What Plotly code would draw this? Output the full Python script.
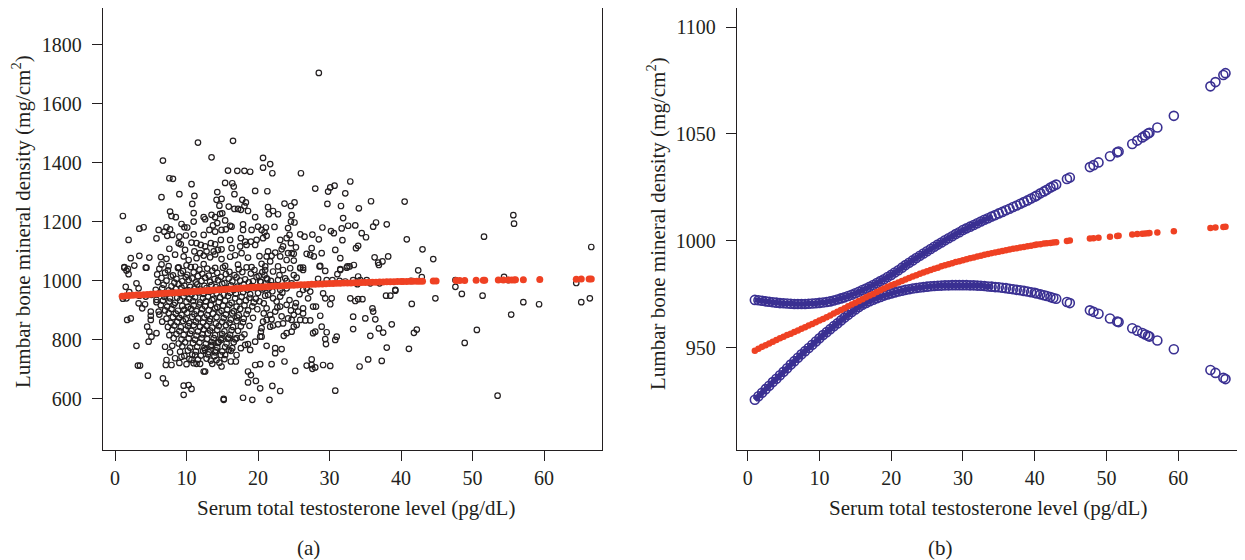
import plotly.graph_objects as go

# ---------------- scatter data (panel a) ----------------
tt_top = [11.6,16.5,13.5,6.7,20.7,20.7,7.6,8.1,15.8,17.1,18.1,18.9,10.7,15.4,16.4,16.6,19.6,6.5,9.0,11.1,14.3,16.7,14.2,14.9,17.8,10.8,14.6,15.9,16.7,17.2,18.3,18.1,17.6,18.6,7.7,7.9,8.5,11.0,12.4,12.6,13.5,14.0,14.7,15.0,1.1,9.3,9.7,10.1,11.0,13.7,14.3,15.4,16.1,17.9,19.6,3.4,4.0,6.1,7.2,6.9,7.7,8.0,7.3,9.0,9.9,11.0,12.4,13.2,14.0,14.9,15.5,16.3,17.9,19.1,20.0,20.5,1.9,5.8,8.9,9.2,10.7,11.4,12.0,12.6,13.4,14.0,14.8,16.1,17.6,18.2,19.0,19.8,20.7,7.6,9.8,11.1,11.9,12.8,13.8,14.4,14.9,16.3,17.5,18.4,19.6,2.2,3.4,4.8,6.4,7.2,8.4,9.6,10.3,11.4,12.4,13.3,14.0,14.9,16.1,16.8,17.7,18.6,20.2,1.3,2.7,4.4,6.5,7.5,8.9,10.0,11.2,12.4,14.0,15.4,17.2,19.1,20.5,28.5]
bmd_top = [1469,1475,1419,1408,1417,1384,1348,1346,1374,1373,1373,1370,1328,1332,1331,1320,1305,1284,1294,1288,1301,1294,1275,1278,1275,1261,1255,1252,1244,1244,1266,1254,1241,1237,1235,1220,1216,1230,1216,1209,1224,1216,1227,1229,1220,1193,1182,1181,1201,1188,1196,1205,1187,1192,1216,1177,1182,1173,1182,1167,1175,1156,1153,1150,1154,1158,1156,1173,1167,1173,1175,1184,1173,1173,1184,1173,1139,1144,1128,1124,1130,1128,1122,1117,1128,1124,1139,1139,1145,1133,1133,1139,1145,1109,1105,1100,1094,1100,1100,1105,1107,1111,1117,1122,1122,1077,1085,1079,1081,1075,1089,1083,1071,1077,1086,1080,1090,1074,1082,1087,1094,1079,1084,1047,1052,1045,1056,1050,1046,1053,1048,1057,1044,1051,1055,1047,1058,1705]

tt_lowleft = [1.3,4.3,1.9,3.0,3.3,2.0,1.6,3.4,4.3,5.1,3.3,4.2,3.8,1.7,2.2,5.0,5.0,5.0,6.1,4.5,4.8,4.7,5.1,5.8,3.0,7.0,7.7,8.0,3.2,3.5,4.6,7.1,7.2,7.9,6.7,7.1,9.6,10.3,10.7,9.6,8.4,9.3,10.7,11.2,11.4,11.9,12.4,12.6,13.4,14.9,16.2,16.9,17.0,18.2,18.6,17.6,18.9,19.6,20.3,20.5,20.4,19.6,20.3,18.6,19.0,19.7,18.6,20.3,17.9,15.2,12.6,13.5,14.5,15.9,14.0,15.4,17.0,15.9,17.7,14.9,5.8,1.6,1.8,1.5,1.1,19.2,15.2,22.0]
bmd_lowleft = [1045,1045,1023,992,975,962,941,950,947,953,924,921,907,868,873,896,882,868,896,845,828,794,811,823,780,777,758,780,713,713,679,715,732,715,670,653,645,647,634,614,738,743,732,749,719,719,693,693,730,710,727,727,749,783,786,772,766,794,811,840,828,715,718,693,681,661,656,636,604,597,766,783,794,766,758,749,806,808,809,806,936,1035,1041,980,940,597,600,644]

tt_core = [6.2,7.4,8.8,9.5,10.6,11.8,12.9,13.6,15.1,16.0,17.3,18.4,19.5,
           5.9,7.0,8.1,9.2,10.1,11.0,12.2,13.1,14.3,15.5,16.7,17.8,19.0,20.1,
           6.5,7.8,8.6,9.9,10.8,11.6,12.6,13.9,14.8,15.9,17.0,18.2,19.8,
           6.0,7.2,8.3,9.4,10.3,11.3,12.1,13.3,14.4,15.3,16.4,17.5,18.7,19.3,20.4,
           6.8,7.9,8.9,9.7,10.5,11.5,12.5,13.5,14.1,15.0,16.2,17.1,18.0,19.1,
           5.7,6.6,7.5,8.5,9.3,10.2,11.1,12.0,12.8,13.7,14.6,15.6,16.6,17.6,18.5,19.6,20.6,
           6.3,7.1,8.0,9.0,9.8,10.7,11.7,12.4,13.2,14.2,15.2,16.1,16.9,17.9,18.9,20.0,
           6.9,7.7,8.7,9.6,10.4,11.2,12.3,13.0,13.8,14.7,15.8,16.8,17.7,18.8,19.7,
           5.8,6.7,7.6,8.4,9.1,10.0,10.9,11.9,12.7,13.6,14.5,15.4,16.3,17.4,18.3,19.4,20.2,
           6.4,7.3,8.2,9.4,10.2,11.0,11.8,12.6,13.4,14.3,15.1,16.0,17.0,18.1,19.2,
           7.0,7.9,8.8,9.7,10.6,11.4,12.2,13.1,14.0,14.9,15.7,16.6,17.5,18.6,19.9,
           6.2,7.5,8.5,9.3,10.1,11.1,12.0,12.9,13.7,14.6,15.5,16.4,17.3,18.4,
           7.2,8.1,9.0,9.9,10.8,11.6,12.5,13.3,14.2,15.2,16.2,17.1,18.0,19.3,
           6.6,7.8,8.7,9.5,10.4,11.3,12.3,13.2,14.1,15.0,16.0,17.0,17.9,
           7.4,8.3,9.2,10.2,11.0,11.9,12.8,13.6,14.5,15.5,16.5,17.6,18.8,
           8.0,9.0,9.9,10.7,11.6,12.4,13.3,14.3,15.3,16.3,17.2,
           7.6,8.6,9.6,10.5,11.4,12.2,13.0,14.0,15.0,16.1,18.1,
           8.2,9.3,10.3,11.2,12.1,12.9,13.8,14.8,15.8,16.8,
           8.9,9.8,10.9,11.8,12.7,13.5,14.4,15.6,16.6,
           9.4,10.5,11.5,12.5,13.4,14.3,15.4,16.4,
           9.1,10.2,11.3,12.3,13.1,14.1,15.0,16.2,
           9.7,10.8,12.0,13.0,13.9,14.8,
           10.4,11.6,12.8,14.2,15.3,
           9.0,10.0,11.0,13.6,14.6]
bmd_core = [1041,1036,1044,1033,1047,1038,1042,1035,1045,1031,1040,1046,1037,
            1022,1028,1019,1026,1021,1029,1024,1018,1027,1023,1020,1030,1025,1017,
            1010,1015,1007,1013,1009,1016,1011,1006,1014,1008,1012,1005,1013,
            996,1001,994,999,1003,995,1000,997,1002,993,998,1001,995,999,996,
            987,982,989,984,980,988,983,986,979,990,985,981,988,983,
            970,975,968,973,977,969,974,971,976,967,972,975,969,974,970,976,971,
            960,955,962,957,959,954,961,956,963,958,953,960,957,962,955,959,
            946,941,943,948,940,945,942,947,939,944,949,941,946,943,940,
            928,933,930,926,934,929,932,927,931,935,928,933,926,930,934,927,931,
            918,913,919,915,912,917,920,914,918,911,916,919,913,917,914,
            900,905,899,903,906,898,904,901,907,899,903,897,905,900,904,
            886,891,889,885,892,887,890,884,889,893,886,890,884,888,
            872,877,875,870,878,873,876,871,877,874,869,876,872,875,
            862,858,861,864,857,862,859,863,856,861,858,864,860,
            844,849,843,847,850,845,848,842,847,850,844,846,848,
            834,830,835,831,829,836,832,834,829,833,831,
            816,820,817,821,815,819,822,816,820,817,819,
            806,802,805,801,807,803,806,800,804,802,
            788,792,789,791,787,793,790,788,792,
            778,774,777,773,779,775,776,772,
            760,764,761,763,759,765,761,763,
            746,750,747,751,745,749,
            736,733,737,732,735,
            722,718,721,719,723]

tt_mid = [21.7,22.0,26.0,21.3,28.0,29.8,30.1,30.7,32.9,32.2,35.8,23.7,24.6,25.1,21.4,21.5,22.1,22.8,29.7,31.6,34.1,31.9,24.7,24.6,25.1,22.3,21.1,20.9,21.2,24.2,25.9,26.5,27.6,29.0,30.2,30.6,31.7,32.6,33.6,34.5,35.1,36.1,36.5,38.0,31.8,28.5,23.1,24.0,24.4,24.6,25.3,23.5,23.3,21.4,22.4,21.2,21.9,23.1,24.2,24.7,25.0,26.8,27.5,27.8,27.3,28.9,30.8,33.7,34.0,31.5,36.3,36.8,37.4,38.2,24.0,25.0,25.9,26.3,28.7,31.5,32.5,33.4,21.0,22.8,21.7]
bmd_mid = [1396,1365,1365,1304,1313,1303,1317,1323,1337,1297,1270,1262,1254,1266,1250,1226,1237,1226,1261,1254,1246,1213,1223,1201,1198,1183,1181,1165,1153,1179,1158,1150,1157,1181,1169,1162,1178,1187,1188,1162,1148,1184,1198,1192,1138,1141,1139,1145,1156,1128,1114,1117,1107,1100,1096,1083,1085,1083,1094,1094,1092,1092,1111,1083,1088,1094,1105,1111,1119,1077,1080,1062,1066,1083,1071,1069,1045,1045,1051,1040,1049,1054,1049,1049,1066]

tt_right = [28.6,29.4,31.5,31.1,32.4,32.8,36.9,25.9,26.3,25.0,25.4,24.7,24.0,23.1,23.1,26.3,27.3,26.8,27.0,28.4,29.6,30.4,31.4,32.2,33.3,34.0,34.3,35.2,35.7,37.0,33.9,39.2,37.9,38.5,32.9,33.6,34.0,34.6,29.1,29.4,30.3,30.1,27.7,28.1,28.7,28.9,29.6,27.7,28.0,26.6,27.3,26.3,26.3,33.3,35.0,36.4,36.0,36.1,36.9,37.5,38.7,35.7,33.3,31.0,30.8,29.4,29.5,38.0,29.1,26.8,27.5,27.6,28.0,30.1,34.2,35.4,37.3,27.5,25.2,23.7,21.9,23.1,21.6,30.8,23.3,22.4,22.4,21.2,23.6,24.0,24.7,25.0,25.4,24.7,24.2,23.5,22.8,22.1,21.7,21.2,20.7,20.5,25.9,25.2,25.6,25.0,24.0,23.1,22.4,21.7,21.2,20.8,22.1,21.4,20.8,20.3,21.2,22.1,23.5,24.5,21.0,22.8,23.8,21.7,20.9,21.8,22.5,23.4,24.4,25.3,22.0,21.5,23.0,24.0,22.6,21.0,20.8,21.9,23.3,24.6,22.7,25.8,21.3,20.6]
bmd_right = [1049,1034,1037,1023,1045,1049,1054,1043,1037,1020,1011,992,975,970,947,970,964,975,941,1007,1003,1003,1000,998,1003,1015,1003,1003,992,992,989,970,950,950,941,932,938,938,958,941,941,921,913,913,882,845,826,823,828,866,866,907,890,879,873,870,907,896,839,825,853,814,837,811,800,803,786,774,715,713,715,702,707,712,710,734,729,734,695,727,718,627,597,628,769,772,755,780,814,823,828,845,851,868,873,856,853,849,845,868,862,811,868,913,896,885,919,913,896,885,907,924,941,953,975,998,1009,1032,1037,1043,1037,1003,1009,986,1020,1000,985,960,935,925,965,975,1020,1000,930,950,890,870,880,900,910,955,1005,1030]

tt_far = [40.5,40.8,43.0,44.5,42.4,42.9,41.4,39.2,41.5,44.8,42.2,41.8,41.1,51.6,55.7,55.8,47.6,47.6,48.5,51.4,50.6,48.9,54.4,55.0,55.4,57.1,59.3,53.5,66.6,64.5,65.2,66.4]
bmd_far = [1269,1141,1107,1074,1036,1013,1000,967,922,941,835,824,770,1150,1223,1194,1003,980,956,950,834,790,1014,1003,886,928,921,611,1115,993,928,941]

# ---------------- fitted curve and confidence band ----------------
fit_tt = [1.0,1.5,2.0,2.5,3.0,3.5,4.0,4.5,5.0,5.5,6.0,6.5,7.0,7.5,8.0,8.5,9.0,9.5,10.0,10.5,11.0,11.5,12.0,12.5,13.0,13.5,14.0,14.5,15.0,15.5,16.0,16.5,17.0,17.5,18.0,18.5,19.0,19.5,20.0,20.5,21.0,21.5,22.0,22.5,23.0,23.5,24.0,24.5,25.0,25.5,26.0,26.5,27.0,27.5,28.0,28.5,29.0,29.5,30.0,30.5,31.0,31.5,32.0,32.5,33.0,33.5,34.0,34.5,35.0,35.5,36.0,36.5,37.0,37.5,38.0,38.5,39.0,
          39.5,40.0,40.3,40.8,41.3,41.7,42.2,42.6,43.0,44.5,44.9,47.7,48.2,48.9,50.5,51.5,51.7,53.6,54.3,55.0,55.4,55.8,56.0,57.1,59.4,64.5,65.2,66.3,66.6]
fit_bmd = [948.5,949.4,950.3,951.1,951.9,952.7,953.5,954.3,955.0,955.8,956.5,957.3,958.0,958.8,959.5,960.3,961.0,961.8,962.6,963.4,964.2,965.0,965.9,966.7,967.6,968.4,969.3,970.1,971.0,971.8,972.6,973.5,974.3,975.1,976.0,976.8,977.6,978.4,979.1,979.8,980.5,981.2,981.9,982.5,983.2,983.8,984.5,985.1,985.7,986.3,986.9,987.4,988.0,988.5,989.0,989.5,990.0,990.4,990.9,991.3,991.8,992.2,992.6,993.0,993.4,993.8,994.2,994.5,994.9,995.2,995.6,995.9,996.2,996.5,996.8,997.1,997.4,
           997.7,998.0,998.2,998.4,998.7,998.8,999.0,999.2,999.3,999.9,1000.1,1001.1,1001.2,1001.4,1001.9,1002.2,1002.3,1002.9,1003.1,1003.3,1003.4,1003.5,1003.6,1003.9,1004.5,1006.0,1006.2,1006.4,1006.5]
upper_bmd = [972.3,972.1,971.9,971.6,971.4,971.2,971.0,970.8,970.7,970.6,970.5,970.4,970.4,970.4,970.4,970.5,970.6,970.7,970.9,971.1,971.3,971.6,972.0,972.5,973.0,973.5,974.1,974.7,975.4,976.1,976.9,977.6,978.4,979.3,980.2,981.1,982.0,983.0,984.0,985.1,986.2,987.4,988.6,989.7,990.8,991.9,993.0,994.0,995.1,996.1,997.2,998.2,999.2,1000.2,1001.2,1002.1,1003.1,1004.0,1005.0,1005.8,1006.6,1007.4,1008.2,1009.0,1009.8,1010.5,1011.3,1012.0,1012.8,1013.5,1014.3,1015.0,1015.8,1016.5,1017.3,1018.1,1018.9,
             1019.8,1020.6,1021.2,1022.2,1023.1,1023.9,1024.9,1025.6,1026.3,1028.9,1029.6,1034.5,1035.4,1036.7,1039.6,1041.4,1041.8,1045.3,1046.9,1048.4,1049.3,1050.2,1050.6,1053.0,1058.5,1072.3,1074.3,1077.6,1078.5]
lower_bmd = [925.5,927.2,928.8,930.5,932.1,933.8,935.4,937.0,938.6,940.3,942.0,943.6,945.2,946.8,948.3,949.8,951.3,952.8,954.3,955.8,957.2,958.6,960.0,961.3,962.7,964.0,965.3,966.6,967.8,969.0,970.0,970.9,971.7,972.4,973.1,973.7,974.3,974.8,975.3,975.8,976.2,976.6,977.0,977.3,977.6,977.9,978.1,978.3,978.5,978.7,978.8,978.9,979.0,979.1,979.1,979.2,979.2,979.2,979.2,979.2,979.1,979.1,979.0,978.9,978.8,978.6,978.5,978.3,978.2,978.0,977.8,977.5,977.3,977.0,976.8,976.5,976.2,
             975.9,975.6,975.3,974.9,974.5,974.1,973.6,973.2,972.8,971.3,970.8,967.4,966.7,965.8,963.6,962.2,961.9,959.0,957.9,956.8,956.1,955.5,955.1,953.3,949.2,939.5,938.1,935.8,935.2]

x_ticks = [0, 10, 20, 30, 40, 50, 60]
y_ticks_a = [600, 800, 1000, 1200, 1400, 1600, 1800]
y_ticks_b = [950, 1000, 1050, 1100]

x_title = "Serum total testosterone level (pg/dL)"
y_title = "Lumbar bone mineral density (mg/cm<sup>2</sup>)"

# ---------------- figure ----------------
INK = "#231f20"
RED = "#ef4123"
BLUE = "#3a3092"
FONT = "Liberation Serif"

tt_all = tt_top + tt_lowleft + tt_core + tt_mid + tt_right + tt_far
bmd_all = bmd_top + bmd_lowleft + bmd_core + bmd_mid + bmd_right + bmd_far

N_DENSE = 67  # portion of the band where the original circles merge into a solid band (x <= 34)

fig = go.Figure()
fig.add_trace(go.Scatter(x=tt_all, y=bmd_all, mode="markers", xaxis="x", yaxis="y",
                         marker=dict(symbol="circle-open", size=5.5, color=INK, line=dict(width=1.2, color=INK)),
                         showlegend=False, hoverinfo="skip"))
fig.add_trace(go.Scatter(x=fit_tt, y=fit_bmd, mode="markers", xaxis="x", yaxis="y",
                         marker=dict(symbol="circle", size=7, color=RED),
                         showlegend=False, hoverinfo="skip"))

for band in (upper_bmd, lower_bmd):
    fig.add_trace(go.Scatter(x=fit_tt[:N_DENSE], y=band[:N_DENSE], mode="lines", xaxis="x2", yaxis="y2",
                             line=dict(color=BLUE, width=5.5, shape="spline"),
                             showlegend=False, hoverinfo="skip"))
    fig.add_trace(go.Scatter(x=fit_tt, y=band, mode="markers", xaxis="x2", yaxis="y2",
                             marker=dict(symbol="circle-open", size=9, color=BLUE, line=dict(width=1.6, color=BLUE)),
                             showlegend=False, hoverinfo="skip"))
fig.add_trace(go.Scatter(x=fit_tt, y=fit_bmd, mode="markers", xaxis="x2", yaxis="y2",
                         marker=dict(symbol="circle", size=6.5, color=RED),
                         showlegend=False, hoverinfo="skip"))

# the page body adds an 8px margin, so the figure is 8px smaller and all pixel positions shift by 8
OFF = 8
W, H = 1245 - OFF, 560 - OFF


def px(v):
    return (v - OFF) / W


def py(v):
    return 1 - (v - OFF) / H


axis_common = dict(showgrid=False, zeroline=False, showline=True, mirror=True,
                   linecolor=INK, linewidth=1.4, ticks="outside", ticklen=10,
                   tickwidth=1.4, tickcolor=INK,
                   tickfont=dict(family=FONT, size=20, color=INK))

fig.update_layout(
    width=W, height=H, paper_bgcolor="white", plot_bgcolor="white",
    margin=dict(l=0, r=0, t=0, b=0),
    xaxis=dict(domain=[px(103), px(602)], range=[-1.68, 68.1], tickvals=x_ticks, anchor="y", **axis_common),
    yaxis=dict(domain=[py(450), py(8)], range=[427, 1925], tickvals=y_ticks_a, anchor="x",
               ticklabelstandoff=6, **axis_common),
    xaxis2=dict(domain=[px(737), px(1242)], range=[-1.49, 68.9], tickvals=x_ticks, anchor="y2", **axis_common),
    yaxis2=dict(domain=[py(450), py(8)], range=[902, 1109], tickvals=y_ticks_b, anchor="x2",
                ticklabelstandoff=6, **axis_common),
    hovermode=False,
)

tfont = dict(family=FONT, size=21, color=INK)
annots = [
    dict(text=y_title, x=px(22), y=py(222), textangle=-90),
    dict(text=y_title, x=px(657), y=py(224), textangle=-90),
    dict(text=x_title, x=px(356), y=py(508)),
    dict(text=x_title, x=px(988), y=py(508)),
    dict(text="(a)", x=px(308), y=py(548)),
    dict(text="(b)", x=px(940), y=py(548)),
]
for a in annots:
    fig.add_annotation(xref="paper", yref="paper", showarrow=False, xanchor="center", yanchor="middle",
                       font=tfont, **a)

fig.write_html("out.html")
